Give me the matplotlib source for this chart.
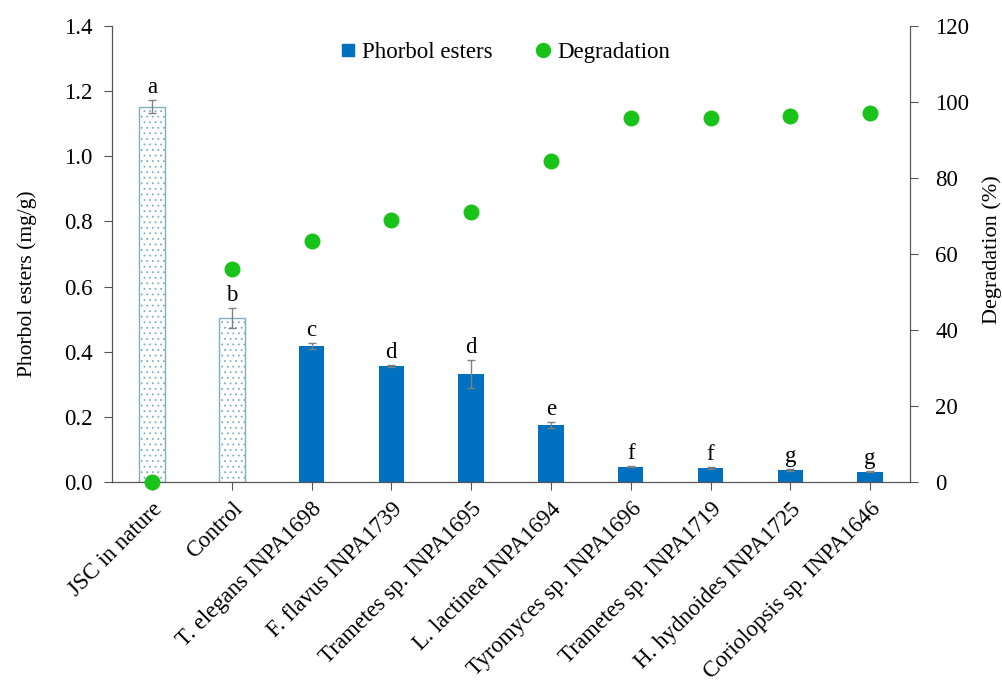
import matplotlib.pyplot as plt
import numpy as np

plt.rcParams['font.family'] = ['Liberation Serif', 'DejaVu Serif']
plt.rcParams['hatch.linewidth'] = 0.6

categories = ['JSC in nature', 'Control', 'T. elegans INPA1698', 'F. flavus INPA1739',
              'Trametes sp. INPA1695', 'L. lactinea INPA1694', 'Tyromyces sp. INPA1696',
              'Trametes sp. INPA1719', 'H. hydnoides INPA1725', 'Coriolopsis sp. INPA1646']
phorbol = [1.152, 0.504, 0.418, 0.356, 0.332, 0.175, 0.047, 0.044, 0.037, 0.032]
phorbol_err = [0.02, 0.03, 0.01, 0.004, 0.043, 0.01, 0.002, 0.003, 0.002, 0.002]
letters = ['a', 'b', 'c', 'd', 'd', 'e', 'f', 'f', 'g', 'g']
degradation = [0, 56, 63.5, 69, 71, 84.5, 95.8, 95.9, 96.4, 97]

x = np.arange(len(categories))
blue = '#0070C0'
green = '#19C319'
fs = 16.5

fig = plt.figure(figsize=(10.03, 6.84), dpi=100)
ax = fig.add_axes([0.1117, 0.2953, 0.7956, 0.6667])
ax2 = ax.twinx()

# first two bars are dotted/hollow, the rest solid blue
for i in x:
    if i < 2:
        ax.bar(i, phorbol[i], width=0.32, facecolor='white', edgecolor='#7FAFC0',
               hatch='...', linewidth=1.0)
    else:
        ax.bar(i, phorbol[i], width=0.32, color=blue)
ax.errorbar(x, phorbol, yerr=phorbol_err, fmt='none', ecolor='#808080',
            elinewidth=1, capsize=3, capthick=1)
for i in x:
    ax.text(i, phorbol[i] + phorbol_err[i] + 0.006, letters[i], ha='center',
            va='bottom', fontsize=fs)

ax2.scatter(x, degradation, s=110, color=green, zorder=5, clip_on=False)

ax.set_xlim(-0.5, 9.5)
ax.set_ylim(0, 1.4)
ax.set_yticks(np.arange(0, 1.41, 0.2))
ax.set_yticklabels([f'{v:.1f}' for v in np.arange(0, 1.41, 0.2)])
ax2.set_ylim(0, 120)
ax2.set_yticks(range(0, 121, 20))

ax.set_xticks(x)
ax.set_xticklabels(categories, rotation=45, ha='right', rotation_mode='anchor', fontsize=fs)
ax.set_ylabel('Phorbol esters (mg/g)', fontsize=15.5)
ax.yaxis.set_label_coords(-0.094, 0.436)
ax2.set_ylabel('Degradation (%)', fontsize=16)
ax2.yaxis.set_label_coords(1.09, 0.51)

for a in (ax, ax2):
    a.spines['top'].set_visible(False)
    for s in a.spines.values():
        s.set_color('#555555')
    a.tick_params(axis='both', direction='out', length=6, color='#555555', labelsize=fs, pad=6)
ax.tick_params(axis='y', pad=8)
ax2.tick_params(axis='y', pad=12)

h1 = plt.Line2D([], [], marker='s', linestyle='none', color=blue, markersize=9)
h2 = plt.Line2D([], [], marker='o', linestyle='none', color=green, markersize=10)
ax.legend([h1, h2], ['Phorbol esters', 'Degradation'], loc='upper center',
          bbox_to_anchor=(0.489, 1.01), ncol=2, frameon=False, fontsize=fs,
          handletextpad=0.0, columnspacing=1.6, handlelength=1.2)

plt.savefig('out.png', dpi=100)
